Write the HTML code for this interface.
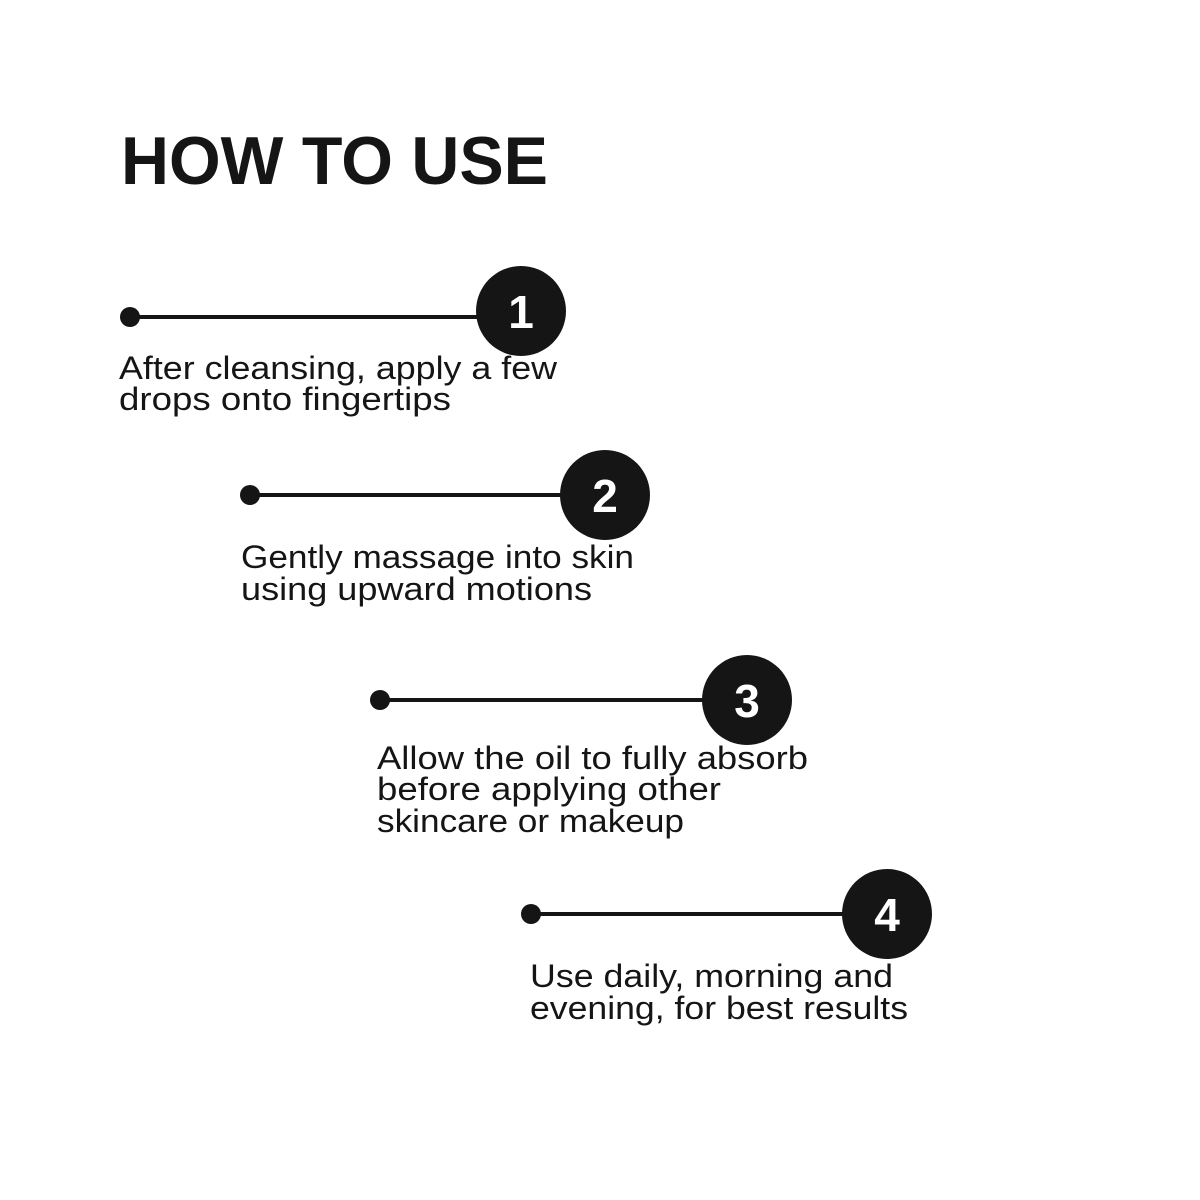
<!DOCTYPE html>
<html><head><meta charset="utf-8"><style>html,body{margin:0;padding:0;background:#fff}svg{display:block}</style></head>
<body>
<svg width="1200" height="1200" viewBox="0 0 1200 1200" xmlns="http://www.w3.org/2000/svg">
<rect width="1200" height="1200" fill="#fff"/>
<g font-family="Liberation Sans, sans-serif" fill="#151515">
<text x="121" y="184" font-size="68" font-weight="bold" textLength="427" lengthAdjust="spacingAndGlyphs">HOW TO USE</text>
</g>
<g stroke="#151515" stroke-width="4">
<line x1="130" y1="317" x2="500" y2="317"/>
<line x1="250" y1="495" x2="590" y2="495"/>
<line x1="380" y1="700" x2="730" y2="700"/>
<line x1="531" y1="914" x2="870" y2="914"/>
</g>
<g fill="#151515">
<circle cx="130" cy="317" r="10"/><circle cx="521" cy="311" r="45"/>
<circle cx="250" cy="495" r="10"/><circle cx="605" cy="495" r="45"/>
<circle cx="380" cy="700" r="10"/><circle cx="747" cy="700" r="45"/>
<circle cx="531" cy="914" r="10"/><circle cx="887" cy="914" r="45"/>
</g>
<g font-family="Liberation Sans, sans-serif" font-weight="bold" font-size="46" fill="#fff" text-anchor="middle">
<text x="521" y="328">1</text><text x="605" y="512">2</text><text x="747" y="717">3</text><text x="887" y="931">4</text>
</g>
<g font-family="Liberation Sans, sans-serif" font-size="32" fill="#151515" lengthAdjust="spacingAndGlyphs">
<text x="119" y="379" textLength="438" lengthAdjust="spacingAndGlyphs">After cleansing, apply a few</text>
<text x="119" y="410" textLength="332" lengthAdjust="spacingAndGlyphs">drops onto fingertips</text>
<text x="241" y="568" textLength="393" lengthAdjust="spacingAndGlyphs">Gently massage into skin</text>
<text x="241" y="600" textLength="351" lengthAdjust="spacingAndGlyphs">using upward motions</text>
<text x="377" y="769" textLength="431" lengthAdjust="spacingAndGlyphs">Allow the oil to fully absorb</text>
<text x="377" y="800" textLength="344" lengthAdjust="spacingAndGlyphs">before applying other</text>
<text x="377" y="832" textLength="307" lengthAdjust="spacingAndGlyphs">skincare or makeup</text>
<text x="530" y="987" textLength="363" lengthAdjust="spacingAndGlyphs">Use daily, morning and</text>
<text x="530" y="1019" textLength="378" lengthAdjust="spacingAndGlyphs">evening, for best results</text>
</g>
</svg>
</body></html>
